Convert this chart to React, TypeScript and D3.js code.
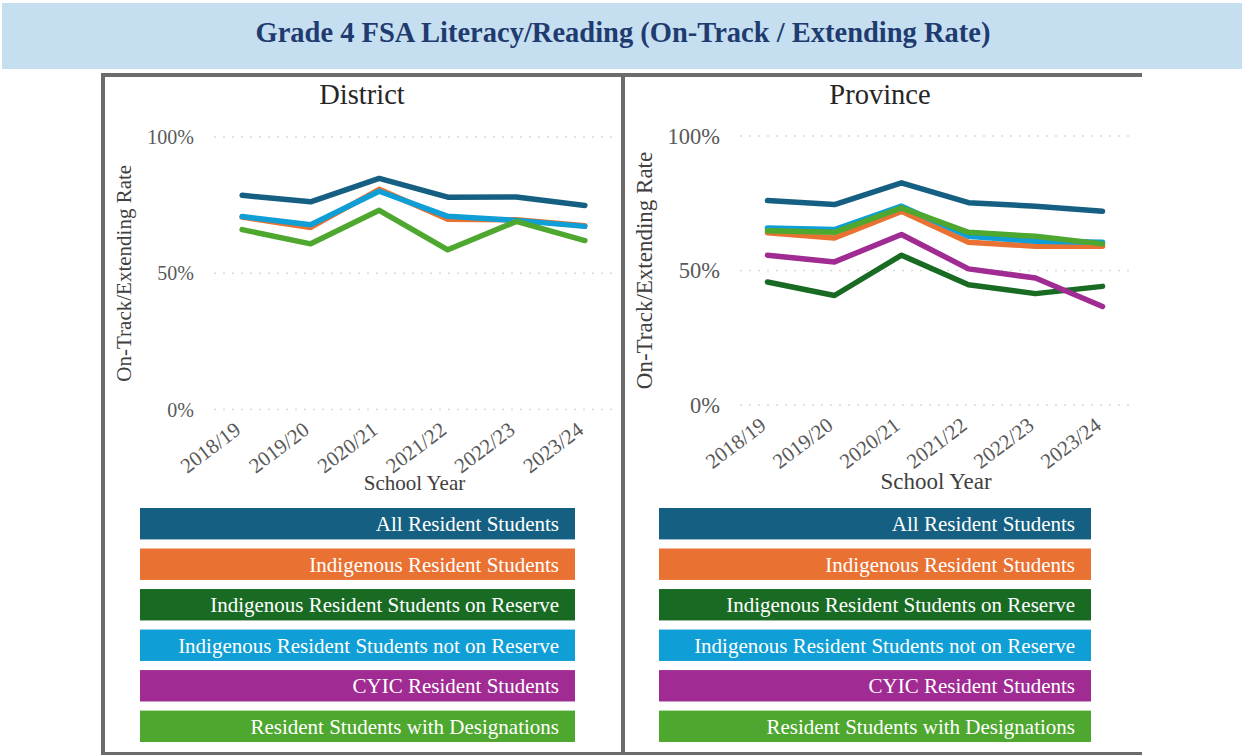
import { useRef, useEffect } from 'react';
import * as d3 from 'd3';

// School years along the x axis
const years = ['2018/19', '2019/20', '2020/21', '2021/22', '2022/23', '2023/24'];

// Student groups, in legend / draw order
const groupNames = [
  'All Resident Students',
  'Indigenous Resident Students',
  'Indigenous Resident Students on Reserve',
  'Indigenous Resident Students not on Reserve',
  'CYIC Resident Students',
  'Resident Students with Designations',
];
const groupColors = ['#156082', '#e97132', '#196b24', '#0f9ed5', '#a02b93', '#4ea72e'];

// District on-track / extending rates (%); null = not reported
const districtAll = [78.6, 76.2, 84.8, 77.9, 78.0, 74.9];
const districtIndigenous = [70.6, 66.8, 80.8, 69.8, 69.6, 67.4];
const districtOnReserve: (number | null)[] = [null, null, null, null, null, null];
const districtNotOnReserve = [70.8, 67.8, 80.1, 70.9, 69.4, 67.2];
const districtCyic: (number | null)[] = [null, null, null, null, null, null];
const districtDesignations = [66.0, 60.8, 73.1, 58.6, 69.0, 62.0];

// Province on-track / extending rates (%)
const provinceAll = [76.0, 74.5, 82.6, 75.2, 73.9, 72.0];
const provinceIndigenous = [64.0, 62.1, 72.0, 60.5, 59.0, 59.0];
const provinceOnReserve = [45.7, 40.7, 55.7, 44.7, 41.4, 44.1];
const provinceNotOnReserve = [65.8, 65.2, 73.9, 62.7, 60.9, 60.5];
const provinceCyic = [55.7, 53.2, 63.4, 50.6, 47.2, 36.6];
const provinceDesignations = [64.8, 64.2, 73.3, 64.2, 62.7, 59.9];

const yTicks = [0, 50, 100];

const FONT = '"Liberation Serif", "Times New Roman", serif';
const WIDTH = 1242;
const HEIGHT = 755;

interface PanelLayout {
  title: string;
  series: (number | null)[][];
  titleX: number;
  plotLeft: number;
  plotRight: number;
  yTop: number;
  yBottom: number;
  yTickX: number;
  yTickSize: number;
  yTitleX: number;
  axisTitleSize: number;
  xTitleY: number;
  legendLeft: number;
  legendRight: number;
}

const panels: PanelLayout[] = [
  {
    title: 'District',
    series: [districtAll, districtIndigenous, districtOnReserve, districtNotOnReserve, districtCyic, districtDesignations],
    titleX: 362,
    plotLeft: 214,
    plotRight: 613,
    yTop: 137,
    yBottom: 409.5,
    yTickX: 194,
    yTickSize: 20,
    yTitleX: 124,
    axisTitleSize: 21,
    xTitleY: 490,
    legendLeft: 140,
    legendRight: 575,
  },
  {
    title: 'Province',
    series: [provinceAll, provinceIndigenous, provinceOnReserve, provinceNotOnReserve, provinceCyic, provinceDesignations],
    titleX: 880,
    plotLeft: 740,
    plotRight: 1130,
    yTop: 136,
    yBottom: 405,
    yTickX: 720,
    yTickSize: 22.5,
    yTitleX: 644,
    axisTitleSize: 23,
    xTitleY: 489,
    legendLeft: 659,
    legendRight: 1091,
  },
];

export default function App() {
  const svgRef = useRef<SVGSVGElement>(null);

  useEffect(() => {
    if (!svgRef.current) return;
    const svg = d3.select(svgRef.current);
    svg.selectAll('*').remove();
    svg.attr('width', WIDTH).attr('height', HEIGHT).style('font-family', FONT);

    // Title band
    svg.append('rect')
      .attr('x', 2).attr('y', 3)
      .attr('width', WIDTH - 2).attr('height', 66)
      .attr('fill', '#c5dff1');
    svg.append('text')
      .attr('x', 623).attr('y', 42)
      .attr('text-anchor', 'middle')
      .attr('fill', '#1f3b6f')
      .attr('font-size', 28.5)
      .attr('font-weight', 700)
      .text('Grade 4 FSA Literacy/Reading (On-Track / Extending Rate)');

    // Frame around the two panels (no right edge)
    const frame = svg.append('g').attr('stroke', '#6b6b6b').attr('stroke-width', 4);
    frame.append('line').attr('x1', 101).attr('x2', 1142).attr('y1', 75).attr('y2', 75);
    frame.append('line').attr('x1', 103).attr('x2', 103).attr('y1', 73).attr('y2', HEIGHT);
    frame.append('line').attr('x1', 623).attr('x2', 623).attr('y1', 73).attr('y2', HEIGHT);
    frame.append('line').attr('x1', 101).attr('x2', 1142).attr('y1', 754).attr('y2', 754);

    panels.forEach((p) => {
      const g = svg.append('g');
      const x = d3.scalePoint<string>().domain(years).range([p.plotLeft, p.plotRight]).padding(0.41);
      const y = d3.scaleLinear().domain([0, 100]).range([p.yBottom, p.yTop]);

      // Panel title
      g.append('text')
        .attr('x', p.titleX).attr('y', 104)
        .attr('text-anchor', 'middle')
        .attr('fill', '#262626')
        .attr('font-size', 28.5)
        .text(p.title);

      // Dotted gridlines + y tick labels
      yTicks.forEach((t) => {
        g.append('line')
          .attr('x1', p.plotLeft).attr('x2', p.plotRight)
          .attr('y1', y(t)).attr('y2', y(t))
          .attr('stroke', '#d9d9d9')
          .attr('stroke-width', 1.5)
          .attr('stroke-dasharray', '2,7');
        g.append('text')
          .attr('x', p.yTickX).attr('y', y(t))
          .attr('dy', '0.35em')
          .attr('text-anchor', 'end')
          .attr('fill', '#595959')
          .attr('font-size', p.yTickSize)
          .text(`${t}%`);
      });

      // Rotated category labels
      years.forEach((yr) => {
        g.append('text')
          .attr('transform', `translate(${(x(yr) ?? 0)},${p.yBottom + 23}) rotate(-37)`)
          .attr('text-anchor', 'end')
          .attr('fill', '#595959')
          .attr('font-size', 21)
          .text(yr);
      });

      // Axis titles
      g.append('text')
        .attr('transform', `translate(${p.yTitleX},${(p.yTop + p.yBottom) / 2}) rotate(-90)`)
        .attr('dy', '0.35em')
        .attr('text-anchor', 'middle')
        .attr('fill', '#404040')
        .attr('font-size', p.axisTitleSize)
        .text('On-Track/Extending Rate');
      g.append('text')
        .attr('x', (p.plotLeft + p.plotRight) / 2 + 1).attr('y', p.xTitleY)
        .attr('text-anchor', 'middle')
        .attr('fill', '#404040')
        .attr('font-size', p.axisTitleSize)
        .text('School Year');

      // Series lines
      const line = d3.line<number | null>()
        .defined((d) => d !== null)
        .x((_, i) => x(years[i]) ?? 0)
        .y((d) => y(d as number));
      p.series.forEach((values, i) => {
        if (values.every((v) => v === null)) return;
        g.append('path')
          .datum(values)
          .attr('d', line)
          .attr('fill', 'none')
          .attr('stroke', groupColors[i])
          .attr('stroke-width', 5.5)
          .attr('stroke-linejoin', 'round')
          .attr('stroke-linecap', 'round');
      });

      // Legend bars
      const legendY = d3.scaleBand<string>().domain(groupNames).range([508, 742]).paddingInner(0.225);
      groupNames.forEach((name, i) => {
        const top = legendY(name) ?? 0;
        g.append('rect')
          .attr('x', p.legendLeft).attr('y', top)
          .attr('width', p.legendRight - p.legendLeft)
          .attr('height', legendY.bandwidth())
          .attr('fill', groupColors[i]);
        g.append('text')
          .attr('x', p.legendRight - 16)
          .attr('y', top + legendY.bandwidth() / 2)
          .attr('dy', '0.35em')
          .attr('text-anchor', 'end')
          .attr('fill', '#ffffff')
          .attr('font-size', 21)
          .text(name);
      });
    });
  }, []);

  return (
    <div style={{ position: 'absolute', left: 0, top: 0 }}>
      <svg ref={svgRef} style={{ display: 'block' }} />
    </div>
  );
}
